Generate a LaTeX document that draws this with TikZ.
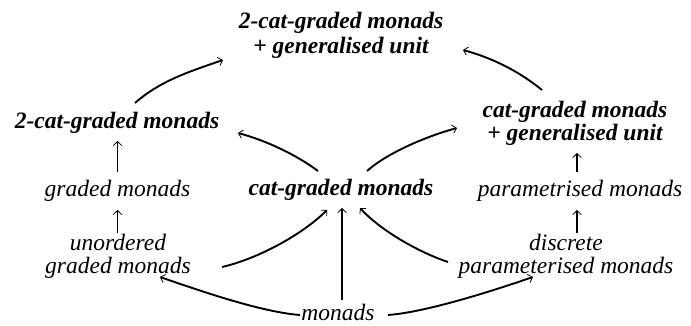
\documentclass[tikz,border=0pt]{standalone}
\usepackage{fontspec}
\setmainfont{Liberation Serif}
\usetikzlibrary{arrows.meta}
\tikzset{
  lbl/.style={font=\fontsize{23.5}{23}\selectfont\itshape, inner sep=0pt, align=center, anchor=base},
  blbl/.style={lbl, font=\fontsize{23.5}{23}\selectfont\bfseries\itshape},
  arr/.style={line width=1.9pt, -{Straight Barb[length=4pt,width=8.5pt,line width=0.8pt]}},
}
\begin{document}
\begin{tikzpicture}[x=1pt,y=-1pt]
\path[use as bounding box] (0,0) rectangle (691,325);
% nodes (base = baseline of last line)
\node[blbl, font=\fontsize{23.5}{25}\selectfont\bfseries\itshape] (top) at (341,53) {2-cat-graded monads\\+ generalised unit};
\node[blbl] (L2) at (117,128) {2-cat-graded monads};
\node[blbl] (R2) at (575,140) {cat-graded monads\\+ generalised unit};
\node[lbl] (gm) at (117.5,196) {graded monads};
\node[blbl] (cg) at (341,195) {cat-graded monads};
\node[lbl] (pm) at (580,196) {parametrised monads};
\node[lbl] (um) at (118,273) {unordered\\graded monads};
\node[lbl] (dp) at (566,273) {discrete\\parameterised monads};
\node[lbl] (mo) at (338,320) {monads};
% connectors
\draw[arr] ([shift={(18,-25)}]L2.base) .. controls +(25,-22) and +(-35,12) .. ([shift={(-118,7)}]top.base);
\draw[arr] ([shift={(-33,-50)}]R2.base) .. controls +(-22,-18) and +(30,8) .. ([shift={(122,-3)}]top.base);
\draw[arr] ([shift={(-23,-24)}]cg.base) .. controls +(-20,-15) and +(30,8) .. ([shift={(121,5)}]L2.base);
\draw[arr] ([shift={(26,-24)}]cg.base) .. controls +(20,-18) and +(-30,8) .. ([shift={(-118,-12)}]R2.base);
\draw[arr] ([shift={(0,-24)}]gm.base) -- ([shift={(0.5,13)}]L2.base);
\draw[arr] ([shift={(-0.5,-40)}]um.base) -- ([shift={(0,14)}]gm.base);
\draw[arr] ([shift={(-3,-24)}]pm.base) -- ([shift={(2,13)}]R2.base);
\draw[arr] ([shift={(11,-40)}]dp.base) -- ([shift={(-3,14)}]pm.base);
\draw[arr] ([shift={(104,-6)}]um.base) .. controls +(35,-8) and +(-25,25) .. ([shift={(-14,15)}]cg.base);
\draw[arr] ([shift={(-118,-11)}]dp.base) .. controls +(-30,-10) and +(20,22) .. ([shift={(19,13)}]cg.base);
\draw[arr] ([shift={(4,-20)}]mo.base) -- ([shift={(1,13)}]cg.base);
\draw[arr] ([shift={(-38,-5)}]mo.base) .. controls +(-40,-3) and +(35,12) .. ([shift={(42,4)}]um.base);
\draw[arr] ([shift={(50,-5)}]mo.base) .. controls +(40,-3) and +(-35,12) .. ([shift={(-33,4)}]dp.base);
\end{tikzpicture}
\end{document}
